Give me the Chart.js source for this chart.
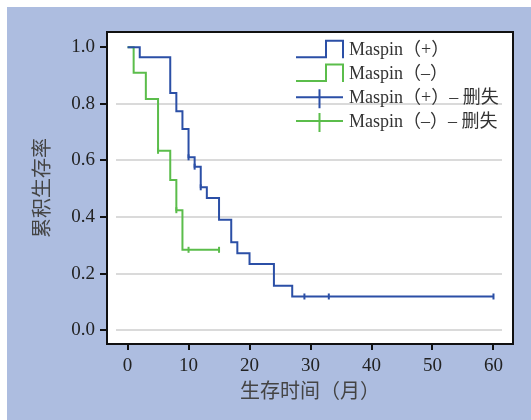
<!DOCTYPE html>
<html>
<head>
<meta charset="utf-8">
<script src="https://cdn.jsdelivr.net/npm/chart.js@4.4.0/dist/chart.umd.min.js"></script>
<style>
  html, body { margin:0; padding:0; background:#fff; }
  canvas { display:block; }
</style>
</head>
<body>
<canvas id="grafica" width="531" height="420"></canvas>
<script>
const seriesNames = ["Maspin（+）", "Maspin（–）"];
const censorNames = ["Maspin（+）– 删失", "Maspin（–）– 删失"];

// Maspin (+) curve
const posTimes = [0, 2, 7, 8, 9, 10, 11, 12, 13, 15, 17, 18, 20, 24, 27, 60];
const posSurv  = [1.0, 0.965, 0.838, 0.774, 0.711, 0.611, 0.578, 0.505, 0.467, 0.390, 0.311, 0.272, 0.234, 0.157, 0.119, 0.119];
const posCensorTimes = [10, 11, 12, 29, 33, 60];
const posCensorSurv  = [0.611, 0.578, 0.505, 0.119, 0.119, 0.119];

// Maspin (-) curve
const negTimes = [0, 1, 3, 5, 7, 8, 9, 15];
const negSurv  = [1.0, 0.910, 0.817, 0.634, 0.531, 0.424, 0.284, 0.284];
const negCensorTimes = [5, 8, 10, 15];
const negCensorSurv  = [0.634, 0.424, 0.284, 0.284];

const xTicks = [0, 10, 20, 30, 40, 50, 60];
const yTicks = [0, 0.2, 0.4, 0.6, 0.8, 1.0];
const gridValues = [0, 0.2, 0.4, 0.6, 0.8];
const xTitle = "生存时间（月）";
const yTitle = "累积生存率";

const azul = "#2b4fa6";
const verde = "#5bbd4b";
const serif = '"Liberation Serif", "Noto Sans CJK SC", serif';

function puntos(xs, ys) {
    return xs.map((x, i) => ({x: x, y: ys[i]}));
}

const fondo = {
    id: "fondo",
    beforeDraw(chart) {
        const {ctx, chartArea: a, width, height} = chart;
        ctx.save();
        ctx.fillStyle = "#ffffff";
        ctx.fillRect(0, 0, width, height);
        ctx.fillStyle = "#adbde0";
        ctx.fillRect(7, 7, width - 7, height - 7);
        ctx.fillStyle = "#ffffff";
        ctx.fillRect(a.left, a.top, a.right - a.left, a.bottom - a.top);
        ctx.restore();
    },
    beforeDatasetsDraw(chart) {
        const {ctx, chartArea: a, scales} = chart;
        ctx.save();
        ctx.strokeStyle = "#dadada";
        ctx.lineWidth = 2;
        gridValues.forEach(v => {
            const y = Math.round(scales.y.getPixelForValue(v));
            ctx.beginPath();
            ctx.moveTo(a.left + 9, y);
            ctx.lineTo(a.right - 11, y);
            ctx.stroke();
        });
        ctx.restore();
    },
    afterDatasetsDraw(chart) {
        const {ctx, chartArea: a} = chart;
        ctx.save();
        ctx.strokeStyle = "#111";
        ctx.lineWidth = 2;
        ctx.strokeRect(a.left, a.top, a.right - a.left, a.bottom - a.top);
        ctx.restore();
    }
};

// leyenda dibujada a mano: simbolo escalonado y simbolo de censura
const leyenda = {
    id: "leyenda",
    afterDraw(chart) {
        const {ctx, chartArea: a} = chart;
        const ds = chart.data.datasets;
        const x0 = a.left + 189, x1 = x0 + 47;
        ctx.save();
        ctx.lineWidth = 2;
        ctx.font = "18px " + serif;
        ctx.textBaseline = "middle";
        ctx.textAlign = "left";
        ds.forEach((d, i) => {
            const cy = a.top + 18.7 + i * 23.8;
            ctx.strokeStyle = d.borderColor;
            ctx.beginPath();
            if (i < 2) {
                ctx.moveTo(x0, cy + 6.6);
                ctx.lineTo(x0 + 30, cy + 6.6);
                ctx.lineTo(x0 + 30, cy - 10);
                ctx.lineTo(x1, cy - 10);
                ctx.lineTo(x1, cy + 7.5);
            } else {
                ctx.moveTo(x0, cy - 1);
                ctx.lineTo(x1, cy - 1);
                ctx.moveTo(x0 + 23.5, cy - 9);
                ctx.lineTo(x0 + 23.5, cy + 10);
            }
            ctx.stroke();
            ctx.fillStyle = "#333";
            ctx.fillText(d.label, x1 + 6, cy);
        });
        ctx.restore();
    }
};

new Chart(document.getElementById("grafica"), {
    type: "line",
    data: {
        datasets: [
            {label: seriesNames[0], data: puntos(posTimes, posSurv), borderColor: azul, borderWidth: 2, stepped: true, pointRadius: 0, fill: false},
            {label: seriesNames[1], data: puntos(negTimes, negSurv), borderColor: verde, borderWidth: 2, stepped: true, pointRadius: 0, fill: false},
            {label: censorNames[0], data: puntos(posCensorTimes, posCensorSurv), borderColor: azul, showLine: false,
             pointStyle: "line", rotation: 90, pointRadius: 3, pointBorderWidth: 2, pointBorderColor: azul},
            {label: censorNames[1], data: puntos(negCensorTimes, negCensorSurv), borderColor: verde, showLine: false,
             pointStyle: "line", rotation: 90, pointRadius: 3, pointBorderWidth: 2, pointBorderColor: verde}
        ]
    },
    options: {
        responsive: false,
        animation: false,
        layout: { padding: { top: 32, right: 18, left: 0, bottom: 0 } },
        plugins: { legend: { display: false }, tooltip: { enabled: false } },
        scales: {
            x: {
                type: "linear",
                min: -3.37,
                max: 63.2,
                afterBuildTicks: s => { s.ticks = xTicks.map(v => ({value: v})); },
                afterFit: s => { s.height = 76; },
                border: { display: false },
                grid: { drawOnChartArea: false, drawTicks: true, tickLength: 6, color: "#111", lineWidth: 2 },
                ticks: { padding: 5, color: "#222", font: { size: 19, family: serif } },
                title: { display: true, text: xTitle, color: "#444", padding: { bottom: 15 }, font: { size: 20, family: serif } }
            },
            y: {
                min: -0.049,
                max: 1.054,
                afterBuildTicks: s => { s.ticks = yTicks.map(v => ({value: v})); },
                afterFit: s => { s.width = 107; },
                border: { display: false },
                grid: { drawOnChartArea: false, drawTicks: true, tickLength: 7, color: "#111", lineWidth: 2 },
                ticks: { padding: 5, color: "#222", font: { size: 19, family: serif }, callback: v => v.toFixed(1) },
                title: { display: true, text: yTitle, color: "#444", padding: { top: 32 }, font: { size: 20, family: serif } }
            }
        }
    },
    plugins: [fondo, leyenda]
});
</script>
</body>
</html>
